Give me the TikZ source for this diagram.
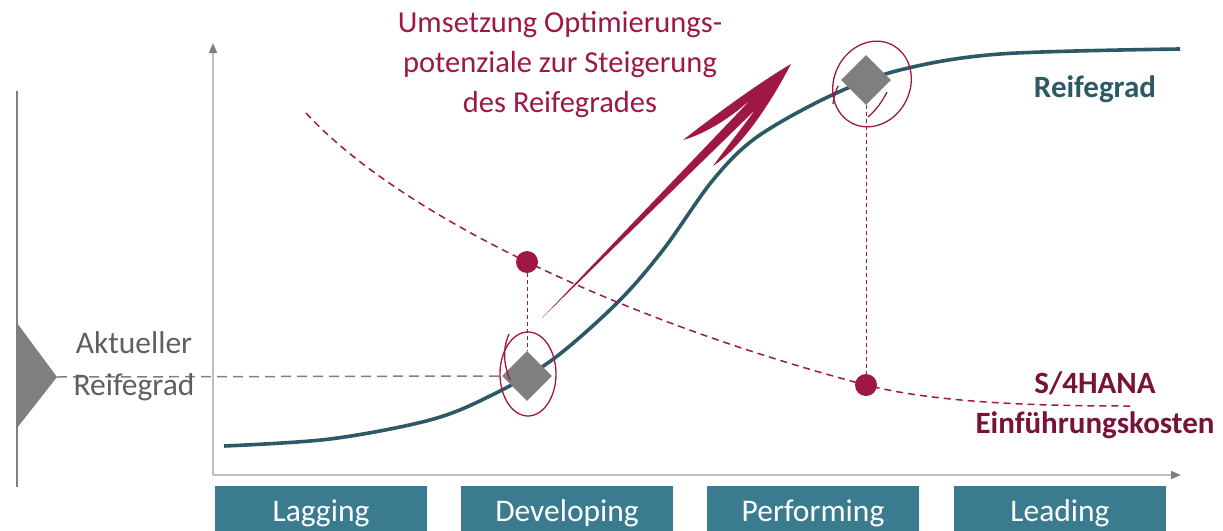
\documentclass[tikz,border=0pt]{standalone}
\usepackage{fontspec}
\setmainfont{Carlito}
\usetikzlibrary{shapes.geometric,arrows.meta}
\definecolor{curveteal}{HTML}{2B5A66}
\definecolor{boxblue}{HTML}{3A7B90}
\definecolor{costred}{HTML}{9E1843}
\definecolor{kostdark}{HTML}{7A1237}
\definecolor{axisgray}{HTML}{BFBFBF}
\definecolor{markgray}{HTML}{7F7F7F}
\definecolor{labelgray}{HTML}{5F5F5F}
\begin{document}
\begin{tikzpicture}[x=1pt,y=-1pt,
  axisline/.style={draw=axisgray,line width=1.6pt,-{Triangle[length=10pt,width=8pt,color=markgray]}},
  phasebox/.style={fill=boxblue,minimum width=212pt,minimum height=50pt,anchor=north west,inner sep=0pt},
  phaselabel/.style={text=white,font=\fontsize{31.5}{38}\selectfont,anchor=base},
  reifecurve/.style={draw=curveteal,line width=3.6pt},
  costcurve/.style={draw=costred,line width=1.5pt,dash pattern=on 7pt off 5pt},
  vconn/.style={draw=costred,line width=1pt,dash pattern=on 4pt off 3pt},
  hconn/.style={draw=markgray,line width=1.5pt,dash pattern=on 10pt off 6pt},
  marker/.style={diamond,fill=markgray,minimum width=50pt,minimum height=50pt,inner sep=0pt},
  costdot/.style={circle,fill=costred,minimum size=22pt,inner sep=0pt},
  handring/.style={draw=costred,line width=1.3pt},
]
\useasboundingbox (0,0) rectangle (1223,530);

% left scale line and triangle
\draw[draw=markgray,line width=2pt] (17,91) -- (17,487);
\fill[markgray] (17,323) -- (57,377) -- (17,428) -- cycle;
\coordinate (tip) at (57,377);

% axes
\coordinate (origin) at (213,475);
\coordinate (ytop) at (213,43);
\coordinate (xend) at (1181,475);
\draw[axisline] (origin) -- (ytop);
\draw[axisline] (origin) -- (xend);

% phase boxes
\node[phasebox] (lag) at (215,486) {};
\node[phasebox] (dev) at (461,486) {};
\node[phasebox] (perf) at (707,486) {};
\node[phasebox] (lead) at (954,486) {};
\node[phaselabel] (laglbl) at (321,521) {Lagging};
\node[phaselabel] (devlbl) at (567,521) {Developing};
\node[phaselabel] (perflbl) at (813,521) {Performing};
\node[phaselabel] (leadlbl) at (1060,521) {Leading};

% maturity curve
\draw[reifecurve] plot[smooth,tension=0.55] coordinates {(224,446) (330,439) (430,420) (490,396) (552,360) (617,303) (663,250) (713,180) (757,137) (830,96) (900,70) (1000,54) (1180,49)};

% cost curve
\draw[costcurve] (306,113) .. controls (400,215) and (620,320) .. (866,385) .. controls (940,404) and (1050,406) .. (1130,406);

% markers
\node[marker] (d1) at (527,376) {};
\node[marker] (d2) at (866,80) {};
\node[costdot] (c1) at (527,262) {};
\node[costdot] (c2) at (866,385) {};

\draw[vconn] (c1) -- (d1.north);
\draw[vconn] (d2.south) -- (c2);
\draw[hconn] (tip) -- (d1.west);

% hand drawn rings
\draw[handring] (528,374) ellipse [x radius=28, y radius=42];
\draw[handring] (509,334) .. controls (502,350) and (504,365) .. (510,380);
\draw[handring,rotate around={63:(872,84)}] (872,84) ellipse [x radius=44, y radius=38];
\draw[handring] (833,104) .. controls (834,96) and (836,90) .. (838,86);
\draw[handring] (887,92) .. controls (882,102) and (876,110) .. (868,117);

% big hand drawn arrow
\fill[costred] (791,64) .. controls (760,82) and (715,115) .. (683,140)
  .. controls (705,134) and (735,116) .. (757,93)
  -- (542,318) -- (755,110)
  .. controls (742,128) and (726,148) .. (713,166)
  .. controls (740,148) and (768,108) .. (791,64) -- cycle;

% texts
\node[text=costred,font=\fontsize{30.5}{40}\selectfont,align=center,anchor=base] (title) at (560,112) {Umsetzung Optimierungs-\\potenziale zur Steigerung\\des Reifegrades};
\node[text=labelgray,font=\fontsize{31.5}{42}\selectfont,align=center,anchor=base] (akt) at (134,395) {Aktueller\\Reifegrad};
\node[text=curveteal,font=\bfseries\fontsize{31}{38}\selectfont,anchor=base] (reife) at (1095,97) {Reifegrad};
\node[text=kostdark,font=\bfseries\fontsize{31}{40}\selectfont,align=center,anchor=base] (kosten) at (1095,433) {S/4HANA\\Einführungskosten};
\end{tikzpicture}
\end{document}
